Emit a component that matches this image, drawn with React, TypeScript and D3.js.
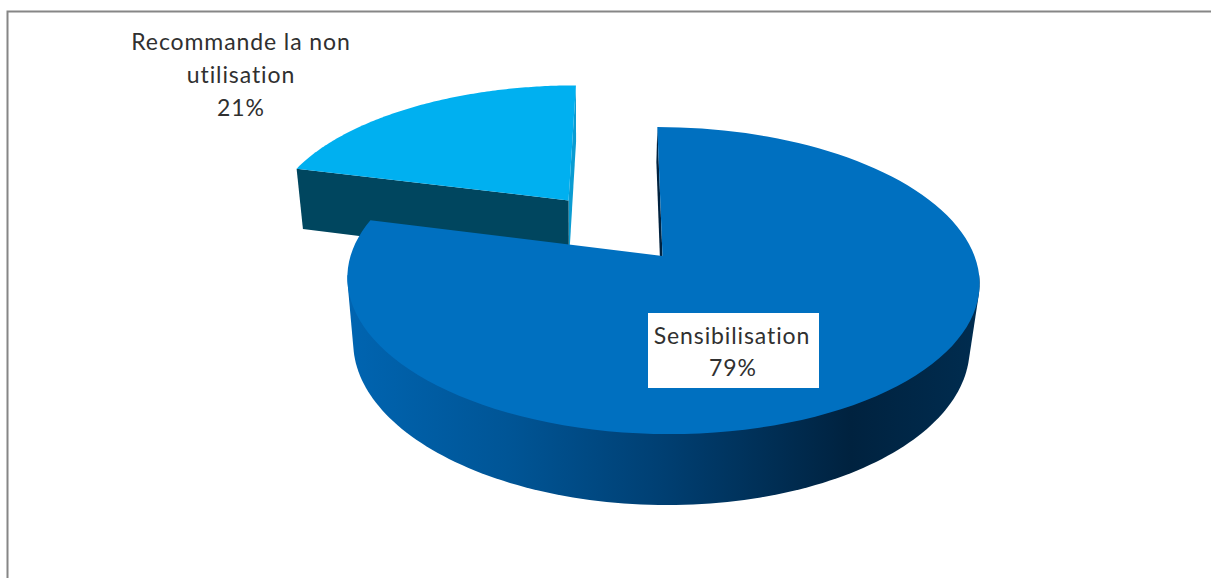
import * as d3 from "d3";
import React from "react";

const WIDTH = 1211;
const HEIGHT = 578;

const labels = ["Sensibilisation", "Recommande la non utilisation"];
const percents = [79, 21];
const topColors = ["#0070C0", "#00B0F0"];

// wall shading of the big slice, left to right
const wallStops = [
  { offset: 0, color: "#0064B0" },
  { offset: 0.25, color: "#005596" },
  { offset: 0.5, color: "#003F72" },
  { offset: 0.8, color: "#00223F" },
  { offset: 1, color: "#002C4F" },
];

// perspective of the tilted disc
const X0 = 662.5;
const Y0 = 256;
const RX = 312;
const RY = 149.6;
const TILT = 0.16;
const SHRINK = 0.025;
const DROP = 65.8;
const LEAN = -6;
const VANISH = -2;
const EXPLODE = 0.5;

type Pt = { u: number; v: number; z: number };

const project = ({ u, v, z }: Pt): [number, number] => {
  const den = 1 + TILT * v + SHRINK * z;
  return [
    X0 + (RX * u + LEAN * v + VANISH * z) / den,
    Y0 - (RY * v - DROP * z) / den,
  ];
};

const disc = (a: number, ox: number, oy: number, z: number): Pt => ({
  u: ox + Math.sin(a),
  v: oy + Math.cos(a),
  z,
});

const App = () => {
  const arcs = d3
    .pie<number>()
    .sort(null)
    .value((d) => d)(percents);

  const big = arcs[0];
  const small = arcs[1];

  // the small slice is pulled out along its middle angle
  const mid = (small.startAngle + small.endAngle) / 2;
  const ox = EXPLODE * Math.sin(mid) * 1.02;
  const oy = EXPLODE * Math.cos(mid);

  const line = d3.line();
  const rim = (from: number, to: number, x: number, y: number, z: number) =>
    d3.range(0, 121).map((i) => project(disc(from + ((to - from) * i) / 120, x, y, z)));

  const apex = (x: number, y: number, z: number) => project({ u: x, v: y, z });

  const bigTop = [apex(0, 0, 0), ...rim(big.startAngle, big.endAngle, 0, 0, 0)];
  const smallTop = [apex(ox, oy, 0), ...rim(small.startAngle, small.endAngle, ox, oy, 0)];

  // the wall is what the front half of the disc sweeps when dropped, hull of both rims
  const wallFrom = Math.PI * 0.54;
  const wallTo = Math.PI * 1.46;
  const bigWall = d3.polygonHull([
    ...rim(wallFrom, wallTo, 0, 0, 0),
    ...rim(wallFrom, wallTo, 0, 0, 1),
  ])!;
  const bigInner = [
    project(disc(big.startAngle, 0, 0, 0)),
    apex(0, 0, 0),
    apex(0, 0, 0.6),
    project(disc(big.startAngle, 0, 0, 0.6)),
  ];
  const smallFace = [
    project(disc(small.startAngle, ox, oy, 0)),
    apex(ox, oy, 0),
    apex(ox, oy, 1),
    project(disc(small.startAngle, ox, oy, 1)),
  ];
  const smallInner = [
    project(disc(small.endAngle, ox, oy, 0)),
    apex(ox, oy, 0),
    apex(ox, oy, 1),
    project(disc(small.endAngle, ox, oy, 1)),
  ];

  const wallScale = d3.scaleLinear().domain([0, 1]).range([352, 975]);

  const font = {
    fontFamily: "Lato, sans-serif",
    fontSize: 23,
    fill: "#303030",
    textAnchor: "middle" as const,
    letterSpacing: 0.9,
    style: { fontVariantLigatures: "none" },
  };

  return (
    <svg
      width={WIDTH}
      height={HEIGHT}
      style={{ position: "absolute", left: 0, top: 0, background: "#fff" }}
    >
      <defs>
        <linearGradient id="wall" gradientUnits="userSpaceOnUse" x1={wallScale(0)} x2={wallScale(1)} y1={0} y2={0}>
          {wallStops.map((s) => (
            <stop key={s.offset} offset={s.offset} stopColor={s.color} />
          ))}
        </linearGradient>
      </defs>

      {/* chart frame, cut off by the picture on the right and at the bottom */}
      <path d={`M7.5,${HEIGHT}V11.5H${WIDTH}`} fill="none" stroke="#868686" strokeWidth={2} />

      <path d={line(smallInner)! + "Z"} fill="#0A9CD2" />
      <path d={line(smallFace)! + "Z"} fill="#00465F" />
      <path d={line(smallTop)! + "Z"} fill={topColors[1]} />

      <path d={line(bigWall)! + "Z"} fill="url(#wall)" />
      <path d={line(bigInner)! + "Z"} fill="#00223F" />
      <path d={line(bigTop)! + "Z"} fill={topColors[0]} />

      <text {...font} x={241} y={50}>Recommande la non</text>
      <text {...font} x={241} y={83}>utilisation</text>
      <text {...font} x={241} y={116}>{percents[1]}%</text>
      <title>{labels[1]}</title>

      <rect x={648} y={313} width={171} height={75} fill="#fff" />
      <text {...font} x={732} y={344}>{labels[0]}</text>
      <text {...font} x={733} y={376}>{percents[0]}%</text>
    </svg>
  );
};

export default App;
